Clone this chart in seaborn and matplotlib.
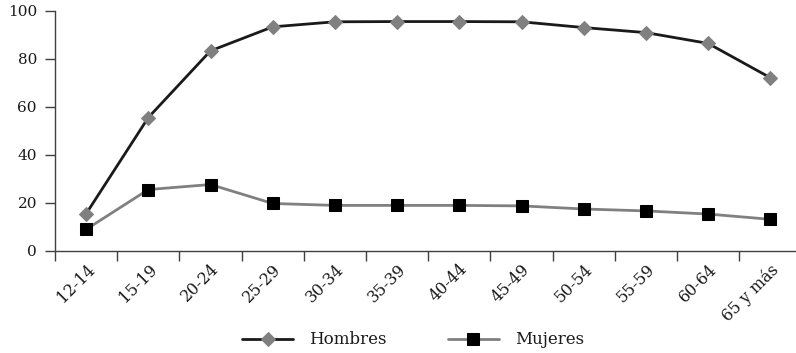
import numpy as np
import pandas as pd
import matplotlib
matplotlib.use("Agg")
import matplotlib.pyplot as plt
import matplotlib.transforms as mtransforms
import seaborn as sns
from matplotlib.ticker import FixedLocator, NullFormatter

categories = ["12-14", "15-19", "20-24", "25-29", "30-34", "35-39",
              "40-44", "45-49", "50-54", "55-59", "60-64", "65 y más"]
hombres = [15.5, 55.6, 83.4, 93.4, 95.5, 95.6, 95.6, 95.5, 93.1, 91.0, 86.5, 72.2]
mujeres = [9.0, 25.6, 27.7, 19.8, 19.0, 19.0, 19.0, 18.8, 17.5, 16.7, 15.4, 13.2]
yticks = [0, 20, 40, 60, 80, 100]

sns.set_theme(style="white")
plt.rcParams["font.family"] = ["DejaVu Serif"]

fig = plt.figure(figsize=(7.96, 3.53), dpi=100)
ax = fig.add_axes([55/796, 1-251/353, (796-55)/796, (251-11)/353])

x = np.arange(len(categories))
df = pd.DataFrame({"x": np.concatenate([x, x]),
                   "y": hombres + mujeres,
                   "serie": ["Hombres"]*len(x) + ["Mujeres"]*len(x)})

sns.lineplot(data=df[df.serie == "Hombres"], x="x", y="y", ax=ax,
             color="#1a1a1a", lw=2, marker="D", markersize=7.5,
             markerfacecolor="#808080", markeredgecolor="#808080",
             label="Hombres")
sns.lineplot(data=df[df.serie == "Mujeres"], x="x", y="y", ax=ax,
             color="#808080", lw=2, marker="s", markersize=9,
             markerfacecolor="#000000", markeredgecolor="#000000",
             label="Mujeres")

ax.set_xlim(-0.5, -0.5 + (796-55)/62.2)
ax.set_ylim(0, 100)
ax.set_yticks(yticks)
ax.set_yticklabels([str(v) for v in yticks], fontsize=11, color="#1a1a1a")
ax.xaxis.set_major_locator(FixedLocator(np.arange(-0.5, 11.0, 1.0)))
ax.xaxis.set_major_formatter(NullFormatter())
ax.xaxis.set_minor_locator(FixedLocator(x))
labels = ax.set_xticklabels(categories, minor=True, rotation=45, ha="right",
                            rotation_mode="anchor", fontsize=11.5, color="#1a1a1a")
offset = mtransforms.ScaledTranslation(9/100, 0, fig.dpi_scale_trans)
for lab in ax.xaxis.get_minorticklabels():
    lab.set_transform(lab.get_transform() + offset)
ax.tick_params(axis="x", which="major", length=7, width=1, color="#404040", direction="out", bottom=True)
ax.tick_params(axis="x", which="minor", length=0, pad=7, bottom=True)
ax.tick_params(axis="y", length=7, width=1, color="#404040", direction="out", left=True, pad=6)
ax.set_xlabel("")
ax.set_ylabel("")
for s in ["top", "right"]:
    ax.spines[s].set_visible(False)
for s in ["left", "bottom"]:
    ax.spines[s].set_color("#404040")
    ax.spines[s].set_linewidth(1)

leg = ax.legend(loc="center", bbox_to_anchor=(413/796, 1-340/353),
                bbox_transform=fig.transFigure, ncol=2, frameon=False,
                fontsize=12, handlelength=3.05, columnspacing=3.7, handletextpad=0.95)
for t in leg.get_texts():
    t.set_color("#1a1a1a")

fig.savefig("out.png", dpi=100)
